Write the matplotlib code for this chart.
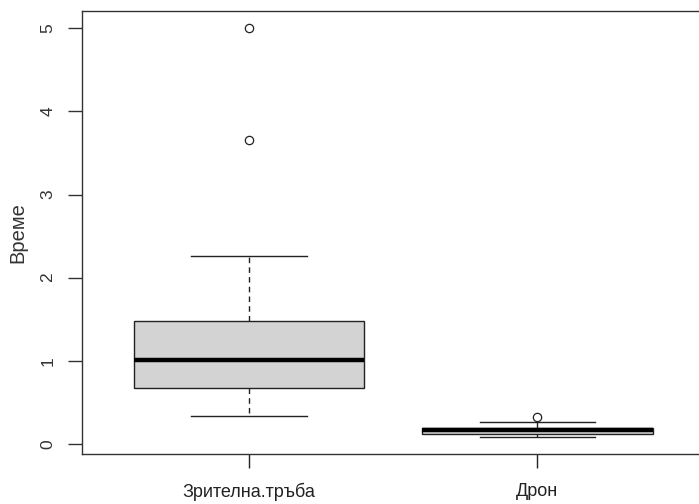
import matplotlib
matplotlib.use("Agg")
import matplotlib.pyplot as plt

categories = ["Зрителна.тръба", "Дрон"]
whisker_low = [0.34, 0.09]
q1 = [0.67, 0.12]
median = [1.01, 0.17]
q3 = [1.48, 0.19]
whisker_high = [2.26, 0.26]
outliers = [[3.65, 5.0], [0.32]]
y_ticks = [0, 1, 2, 3, 4, 5]
y_label = "Време"

plt.rcParams['font.family'] = ['Liberation Sans', 'DejaVu Sans']

fig = plt.figure(figsize=(6.99, 5.04), dpi=100)
ax = fig.add_axes([81.7 / 699, 50 / 504, (704.8 - 81.7) / 699, (454 - 10.7) / 504])

stats = []
for i, c in enumerate(categories):
    stats.append(dict(label=c, whislo=whisker_low[i], q1=q1[i], med=median[i],
                      q3=q3[i], whishi=whisker_high[i], fliers=outliers[i]))

ax.bxp(stats, positions=[1, 2], widths=0.8, patch_artist=True, showfliers=True,
       boxprops=dict(facecolor='#d3d3d3', edgecolor='#222222', linewidth=1.0),
       medianprops=dict(color='black', linewidth=3.2, solid_capstyle='butt'),
       whiskerprops=dict(color='#222222', linewidth=1.0, linestyle=(0, (4, 3))),
       capprops=dict(color='#222222', linewidth=1.0),
       capwidths=0.4,
       flierprops=dict(marker='o', markerfacecolor='none', markeredgecolor='#222222',
                       markersize=6, markeredgewidth=0.9))

ax.set_xlim(0.42, 2.58)
ax.set_ylim(-0.12, 5.21)
ax.set_yticks(y_ticks)
ax.set_yticklabels([str(t) for t in y_ticks], rotation=90, va='center', fontsize=12.5)
ax.set_xticks([1, 2])
ax.set_xticklabels(categories, fontsize=13)
ax.tick_params(axis='y', length=10, width=1, pad=9, colors='#333333', labelcolor='#333333')
ax.tick_params(axis='x', length=10, width=1, pad=11, colors='#222222', labelcolor='#222222')
ax.set_ylabel(y_label, fontsize=14.5, color='#333333', labelpad=9)
for s in ax.spines.values():
    s.set_linewidth(1.0)
    s.set_color('#333333')

fig.savefig("out.png", dpi=100)
